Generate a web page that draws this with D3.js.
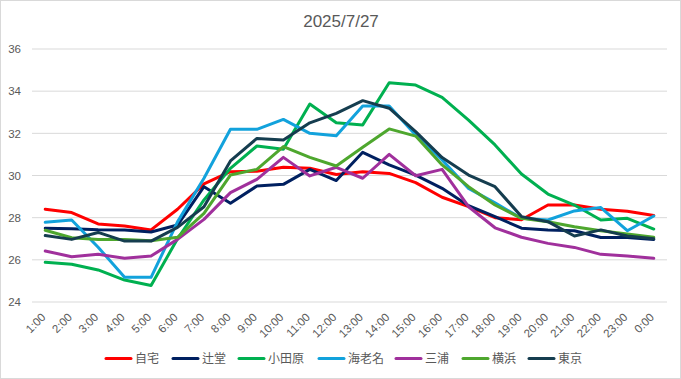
<!DOCTYPE html>
<html><head><meta charset="utf-8">
<script src="https://cdn.jsdelivr.net/npm/d3@7"></script>
<style>
html,body{margin:0;padding:0;background:#fff;}
svg{display:block;font-family:"Liberation Sans",Arial,"Noto Sans CJK JP",sans-serif;}
</style></head>
<body><svg id="chart" width="681" height="379"></svg>
<script>
const title = "2025/7/27";
const categories = ["1:00","2:00","3:00","4:00","5:00","6:00","7:00","8:00","9:00","10:00","11:00","12:00","13:00","14:00","15:00","16:00","17:00","18:00","19:00","20:00","21:00","22:00","23:00","0:00"];
const yTicks = [24,26,28,30,32,34,36];
const seriesNames = ["自宅","辻堂","小田原","海老名","三浦","横浜","東京"];
const seriesColors = ["#FF0000","#002060","#00B050","#12A2DC","#A0309C","#4EA72E","#153D4F"];
const jitaku   = [28.4,28.24,27.7,27.6,27.42,28.4,29.6,30.18,30.2,30.39,30.34,30.05,30.18,30.1,29.66,28.97,28.52,28.0,27.9,28.6,28.6,28.4,28.3,28.1];
const tsujido  = [27.5,27.47,27.43,27.42,27.32,27.65,29.47,28.68,29.5,29.58,30.29,29.76,31.1,30.5,30.02,29.39,28.57,28.05,27.5,27.42,27.38,27.06,27.06,26.97];
const odawara  = [25.88,25.79,25.52,25.04,24.78,27.0,28.84,30.34,31.4,31.24,33.39,32.5,32.4,34.4,34.29,33.71,32.63,31.45,30.07,29.12,28.6,27.89,27.97,27.46];
const ebina    = [27.78,27.89,26.6,25.17,25.17,27.8,29.87,32.19,32.19,32.66,32.0,31.89,33.3,33.3,31.92,30.74,29.39,28.7,27.97,27.89,28.32,28.48,27.38,28.08];
const miura    = [26.42,26.15,26.26,26.07,26.18,26.97,27.92,29.19,29.82,30.86,29.98,30.39,29.87,31.0,29.99,30.29,28.52,27.52,27.07,26.78,26.59,26.26,26.18,26.07];
const yokohama = [27.4,27.05,26.97,26.97,26.91,27.07,28.2,30.02,30.29,31.37,30.86,30.45,31.34,32.21,31.87,30.5,29.47,28.6,27.97,27.81,27.57,27.38,27.23,27.07];
const tokyo    = [27.15,26.97,27.3,26.89,26.89,27.54,28.52,30.69,31.76,31.68,32.5,32.95,33.55,33.19,32.08,30.85,30.02,29.47,28.05,27.81,27.13,27.42,27.13,27.0];
const seriesValues = [jitaku,tsujido,odawara,ebina,miura,yokohama,tokyo];

const W = 681, H = 379;
const plot = {left:32, right:667, top:49, bottom:302};
const svg = d3.select("#chart");
const textColor = "#595959";

svg.append("rect").attr("x",0.5).attr("y",0.5).attr("width",W-1).attr("height",H-1)
  .attr("fill","#fff").attr("stroke","#d9d9d9");

svg.append("text").attr("x",341).attr("y",27).attr("text-anchor","middle")
  .attr("font-size",17).attr("fill",textColor).text(title);

const x = d3.scaleBand().domain(categories).range([plot.left, plot.right]);
const y = d3.scaleLinear().domain([24,36]).range([plot.bottom, plot.top]);

// gridlines
svg.append("g").selectAll("line").data(yTicks).join("line")
  .attr("x1",plot.left).attr("x2",plot.right)
  .attr("y1",d=>y(d)).attr("y2",d=>y(d))
  .attr("stroke","#d9d9d9").attr("stroke-width",1);

// y axis labels
const yAxis = d3.axisLeft(y).tickValues(yTicks).tickSize(0).tickPadding(0);
const gy = svg.append("g").attr("transform",`translate(${plot.left-11},0)`).call(yAxis);
gy.select(".domain").remove();
gy.selectAll("text").attr("font-size",11.5).attr("fill",textColor)
  .attr("font-family","'Liberation Sans',Arial,sans-serif");

// x axis labels
const xAxis = d3.axisBottom(x).tickSize(0).tickPadding(0);
const gx = svg.append("g").attr("transform",`translate(0,${plot.bottom})`).call(xAxis);
gx.select(".domain").remove();
gx.selectAll("text").attr("font-size",11.5).attr("fill",textColor)
  .attr("font-family","'Liberation Sans',Arial,sans-serif")
  .attr("text-anchor","end").attr("dy",0)
  .attr("transform","translate(1,16) rotate(-45)");

// lines
const line = d3.line().x((d,i)=>x(categories[i])+x.bandwidth()/2).y(d=>y(d));
svg.append("g").selectAll("path").data(seriesValues).join("path")
  .attr("d",d=>line(d)).attr("fill","none")
  .attr("stroke",(d,i)=>seriesColors[i]).attr("stroke-width",3)
  .attr("stroke-linejoin","round").attr("stroke-linecap","round");

// legend
const legendX = [106,173,239,319,396,463,529];
const lg = svg.append("g");
seriesNames.forEach((name,i)=>{
  const g = lg.append("g").attr("transform",`translate(${legendX[i]},358.5)`);
  g.append("line").attr("x1",0).attr("x2",25).attr("y1",0).attr("y2",0)
    .attr("stroke",seriesColors[i]).attr("stroke-width",3).attr("stroke-linecap","round");
  g.append("text").attr("x",29).attr("y",4.5).attr("font-size",12)
    .attr("font-family","'Noto Sans CJK JP',sans-serif")
    .attr("fill",textColor).text(name);
});
</script></body></html>
